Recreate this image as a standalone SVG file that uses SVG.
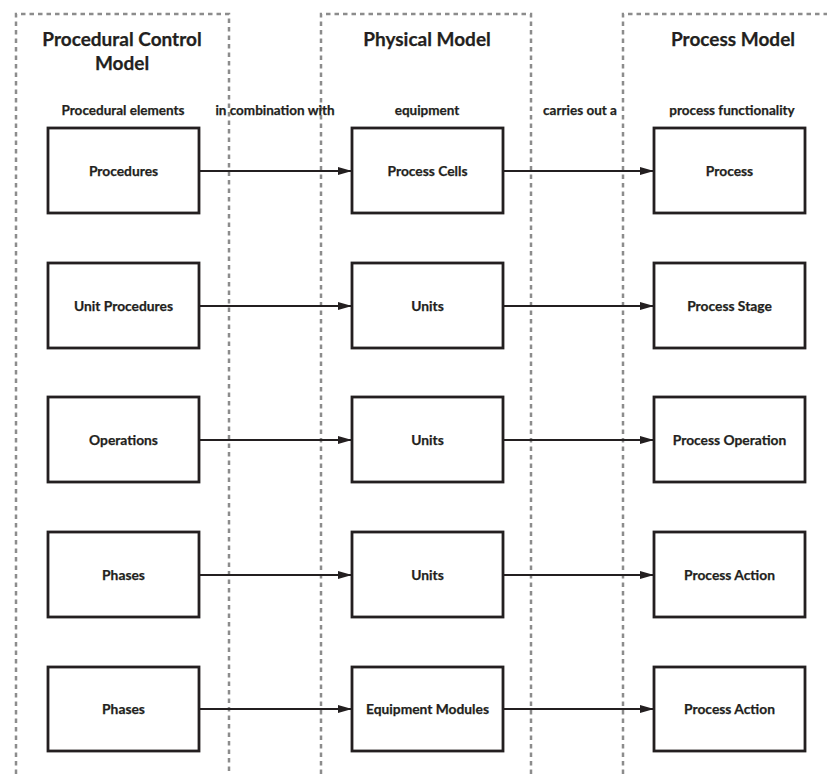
<svg xmlns="http://www.w3.org/2000/svg" width="827" height="774" viewBox="0 0 827 774">
<style>
.lane{fill:none;stroke:#8c8c8c;stroke-width:2.5;stroke-dasharray:4.5 4}
.box{fill:#fff;stroke:#231f20;stroke-width:2.8}
.t{font-family:Lato,"Liberation Sans",sans-serif;font-weight:bold;fill:#231f20;text-anchor:middle;stroke:#231f20;stroke-width:0.25}
.h{font-size:19px}
.l{font-size:13.5px}
.n{font-size:13.8px}
.c{stroke:#231f20;stroke-width:2.2;fill:none;marker-end:url(#ah)}
</style>
<defs>
<marker id="ah" markerWidth="16" markerHeight="10" refX="14" refY="5" orient="auto" markerUnits="userSpaceOnUse">
<path d="M0,1 L14,5 L0,9 Z" fill="#231f20"/>
</marker>
</defs>
<rect width="827" height="774" fill="#fff"/>
<g id="lanes">
<path class="lane" d="M16,774 V14 H229 V774"/>
<path class="lane" d="M321,774 V14 H531 V774"/>
<path class="lane" d="M623,774 V14 H827"/>
</g>
<g id="headers">
<text class="t h" x="122" y="46">Procedural Control</text>
<text class="t h" x="122" y="70">Model</text>
<text class="t h" x="427" y="46">Physical Model</text>
<text class="t h" x="733" y="46">Process Model</text>
<text class="t l" x="123" y="115">Procedural elements</text>
<text class="t l" x="275" y="115">in combination with</text>
<text class="t l" x="427" y="115">equipment</text>
<text class="t l" x="580" y="115">carries out a</text>
<text class="t l" x="732" y="115">process functionality</text>
</g>
<g id="connectors">
<line class="c" x1="199" y1="171" x2="352" y2="171"/>
<line class="c" x1="503" y1="171" x2="654" y2="171"/>
<line class="c" x1="199" y1="306" x2="352" y2="306"/>
<line class="c" x1="503" y1="306" x2="654" y2="306"/>
<line class="c" x1="199" y1="440" x2="352" y2="440"/>
<line class="c" x1="503" y1="440" x2="654" y2="440"/>
<line class="c" x1="199" y1="575" x2="352" y2="575"/>
<line class="c" x1="503" y1="575" x2="654" y2="575"/>
<line class="c" x1="199" y1="709" x2="352" y2="709"/>
<line class="c" x1="503" y1="709" x2="654" y2="709"/>
</g>
<g id="procedures"><rect class="box" x="48" y="128" width="151" height="85"/><text class="t n" x="123.5" y="176">Procedures</text></g>
<g id="process-cells"><rect class="box" x="352" y="128" width="151" height="85"/><text class="t n" x="427.5" y="176">Process Cells</text></g>
<g id="process"><rect class="box" x="654" y="128" width="151" height="85"/><text class="t n" x="729.5" y="176">Process</text></g>
<g id="unit-procedures"><rect class="box" x="48" y="263" width="151" height="85"/><text class="t n" x="123.5" y="311">Unit Procedures</text></g>
<g id="units-1"><rect class="box" x="352" y="263" width="151" height="85"/><text class="t n" x="427.5" y="311">Units</text></g>
<g id="process-stage"><rect class="box" x="654" y="263" width="151" height="85"/><text class="t n" x="729.5" y="311">Process Stage</text></g>
<g id="operations"><rect class="box" x="48" y="397" width="151" height="85"/><text class="t n" x="123.5" y="445">Operations</text></g>
<g id="units-2"><rect class="box" x="352" y="397" width="151" height="85"/><text class="t n" x="427.5" y="445">Units</text></g>
<g id="process-operation"><rect class="box" x="654" y="397" width="151" height="85"/><text class="t n" x="729.5" y="445">Process Operation</text></g>
<g id="phases-1"><rect class="box" x="48" y="532" width="151" height="85"/><text class="t n" x="123.5" y="580">Phases</text></g>
<g id="units-3"><rect class="box" x="352" y="532" width="151" height="85"/><text class="t n" x="427.5" y="580">Units</text></g>
<g id="process-action-1"><rect class="box" x="654" y="532" width="151" height="85"/><text class="t n" x="729.5" y="580">Process Action</text></g>
<g id="phases-2"><rect class="box" x="48" y="667" width="151" height="84"/><text class="t n" x="123.5" y="714">Phases</text></g>
<g id="equipment-modules"><rect class="box" x="352" y="667" width="151" height="84"/><text class="t n" x="427.5" y="714">Equipment Modules</text></g>
<g id="process-action-2"><rect class="box" x="654" y="667" width="151" height="84"/><text class="t n" x="729.5" y="714">Process Action</text></g>
</svg>
